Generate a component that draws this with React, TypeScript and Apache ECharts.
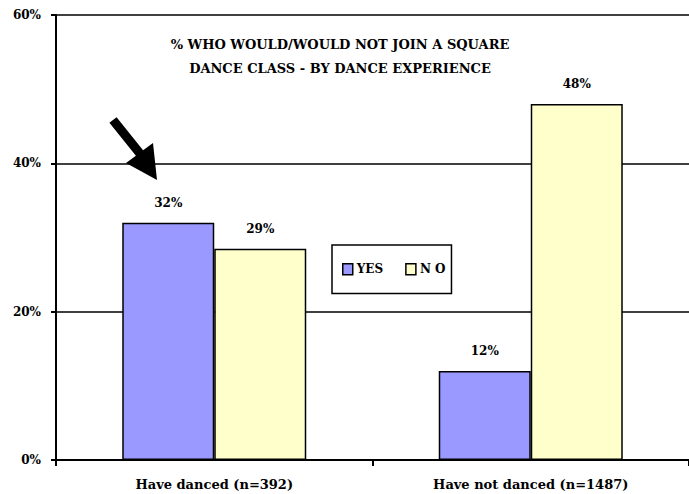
import React, { useEffect, useRef } from "react";
import * as echarts from "echarts";

const categories = ["Have danced (n=392)", "Have not danced (n=1487)"];
const yesValues = [32, 12];
const noValues = [28.5, 48];
const seriesNames = ["YES", "N O"];
const titleLines = ["% WHO WOULD/WOULD NOT JOIN A SQUARE", "DANCE CLASS - BY DANCE EXPERIENCE"];

const FONT = "'DejaVu Serif', 'Liberation Serif', serif";

export default function App() {
  const ref = useRef<HTMLDivElement>(null);
  useEffect(() => {
    if (!ref.current) return;
    const chart = echarts.init(ref.current, undefined, { renderer: "svg" });
    const labelStyle = {
      show: true,
      position: "top" as const,
      distance: 14,
      color: "#000",
      fontFamily: FONT,
      fontWeight: "bold" as const,
      fontSize: 12,
      formatter: (p: any) => Math.round(p.value) + "%",
    };
    chart.setOption({
      animation: false,
      backgroundColor: "#fff",
      title: {
        text: titleLines.join("\n"),
        left: 340,
        textAlign: "center",
        top: 32,
        padding: 0,
        textStyle: {
          fontFamily: FONT,
          fontWeight: "bold",
          fontSize: 13,
          color: "#000",
          lineHeight: 24,
        },
      },
      grid: { left: 56, top: 15, width: 640, height: 445, containLabel: false },
      legend: {
        data: seriesNames,
        left: 332,
        top: 245,
        padding: [18, 6, 18, 10],
        borderColor: "#000",
        borderWidth: 1.5,
        itemWidth: 10,
        itemHeight: 11,
        itemGap: 22,
        icon: "rect",
        itemStyle: { borderColor: "#000", borderWidth: 1.5 },
        textStyle: { color: "#000", fontFamily: FONT, fontWeight: "bold", fontSize: 12, padding: [0, 0, 4, -1] },
      },
      graphic: [
        {
          type: "polygon",
          shape: {
            points: [
              [116.6, 117.3],
              [143.1, 150.3],
              [153, 143],
              [157, 180],
              [126, 163],
              [135.9, 155.7],
              [109.4, 122.7],
            ],
          },
          style: { fill: "#000" },
        },
      ],
      xAxis: {
        type: "category",
        data: categories,
        boundaryGap: true,
        axisLine: { show: true, lineStyle: { color: "#000", width: 2 } },
        axisTick: { show: true, length: 6, lineStyle: { color: "#000", width: 2 } },
        axisLabel: {
          color: "#000",
          fontFamily: FONT,
          fontWeight: "bold",
          fontSize: 13,
          margin: 18,
        },
      },
      yAxis: {
        type: "value",
        min: 0,
        max: 60,
        interval: 20,
        axisLine: { show: true, lineStyle: { color: "#000", width: 2 } },
        axisTick: { show: true, length: 5, lineStyle: { color: "#000", width: 2 } },
        splitLine: { show: true, lineStyle: { color: "#000", width: 1.5 } },
        axisLabel: {
          color: "#000",
          fontFamily: FONT,
          fontWeight: "bold",
          fontSize: 12,
          margin: 15,
          formatter: "{value}%",
        },
      },
      series: [
        {
          name: seriesNames[0],
          type: "bar",
          data: yesValues,
          barWidth: 92,
          barGap: "0%",
          itemStyle: { color: "#9999ff", borderColor: "#000", borderWidth: 1.5 },
          label: labelStyle,
        },
        {
          name: seriesNames[1],
          type: "bar",
          data: noValues,
          barWidth: 92,
          barGap: "0%",
          itemStyle: { color: "#ffffcc", borderColor: "#000", borderWidth: 1.5 },
          label: labelStyle,
        },
      ],
    });
    return () => chart.dispose();
  }, []);
  return (
    <div
      ref={ref}
      style={{ position: "fixed", left: 0, top: 0, width: 689, height: 494, background: "#fff" }}
    />
  );
}
